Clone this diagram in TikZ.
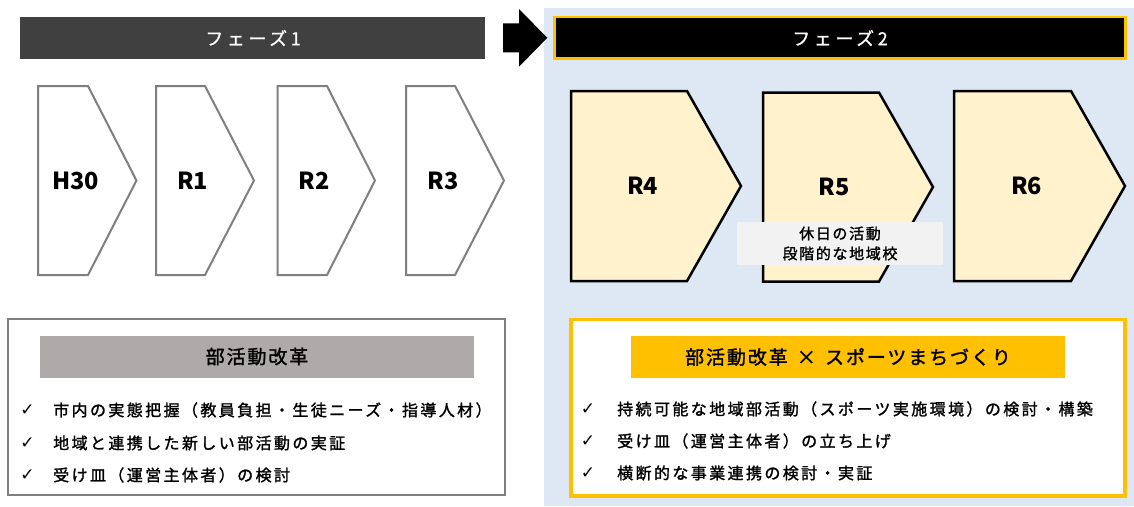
\documentclass[tikz,border=0pt]{standalone}
\usepackage{fontspec}
\setmainfont{Noto Sans CJK JP}
\newfontfamily\jpbody{Noto Sans CJK JP}[LetterSpace=15, FakeBold=1.5]
\newfontfamily\jptitle{Noto Sans CJK JP}[LetterSpace=10, FakeBold=1.5]
\newfontfamily\jpnote{Noto Sans CJK JP}[LetterSpace=11, FakeBold=1.5]
\newfontfamily\jphead{Noto Sans CJK JP}[LetterSpace=20, FakeBold=1]
\newfontfamily\symf{DejaVu Sans}
\definecolor{phaseA}{HTML}{404040}
\definecolor{gold}{HTML}{FFC000}
\definecolor{bluebg}{HTML}{DEE8F4}
\definecolor{cream}{HTML}{FFF2CC}
\definecolor{chevgray}{HTML}{7F7F7F}
\definecolor{labelgray}{HTML}{F2F2F2}
\definecolor{titlegray}{HTML}{AEAAAA}
\tikzset{
  chevA/.style={draw=chevgray, line width=2pt, fill=white, line join=miter},
  chevB/.style={draw=black, line width=2.5pt, fill=cream, line join=miter},
  rlabel/.style={font=\fontsize{23.5}{26}\selectfont\bfseries, inner sep=0pt},
  phasetext/.style={font=\jphead\fontsize{18}{20}\selectfont, text=white, inner sep=0pt},
  titletext/.style={font=\jptitle\fontsize{19}{22}\selectfont, inner sep=0pt},
  bullettext/.style={font=\jpbody\fontsize{16}{19}\selectfont, anchor=west, inner sep=0pt},
  checkmk/.style={font=\symf\fontsize{17}{19}\selectfont, inner sep=0pt},
  notetext/.style={font=\jpnote\fontsize{15}{20}\selectfont, align=center, inner sep=0pt}
}
% name, style, left, shoulder, tip, top, bottom, label, textx
\newcommand{\chevron}[9]{%
  \draw[#2] (#3,#6) -- (#4,#6) -- (#5,{(#6+#7)/2}) -- (#4,#7) -- (#3,#7) -- cycle;
  \node[rlabel] (#1) at (#9,{(#6+#7)/2}) {#8};
}
\begin{document}
\begin{tikzpicture}[x=1pt,y=-1pt]
\useasboundingbox (0,0) rectangle (1134,506);
\fill[white] (0,0) rectangle (1134,506);
% blue background of phase 2
\fill[bluebg] (544,7.5) rectangle (1134,506);
% phase bars
\fill[phaseA] (20,17) rectangle (485,59);
\node[phasetext] (p1) at (253,38) {フェーズ1};
\draw[gold, line width=2.5pt, fill=black] (554.5,17) rectangle (1125.5,58.5);
\node[phasetext] (p2) at (840,38) {フェーズ2};
% block arrow
\fill[black] (503,23.3) -- (519,23.3) -- (519,9) -- (547.3,37.8) -- (519,66.7) -- (519,52.3) -- (503,52.3) -- cycle;
% phase 1 chevrons
\chevron{h30}{chevA}{38}{88}{136.5}{86}{275}{H30}{75.5}
\chevron{r1}{chevA}{156}{205}{254}{86}{275}{R1}{192.5}
\chevron{r2}{chevA}{277.5}{327}{375}{86}{275}{R2}{314}
\chevron{r3}{chevA}{406}{455}{504}{86}{275}{R3}{443}
% phase 2 chevrons
\chevron{r4}{chevB}{571}{687}{741}{91}{281}{R4}{642.7}
\chevron{r5}{chevB}{763}{879}{933}{92.5}{281.5}{R5}{834}
\chevron{r6}{chevB}{954}{1071}{1125}{91}{281}{R6}{1026.5}
% note
\fill[labelgray] (737,222) rectangle (943,265);
\node[notetext] (note) at (840,243.5) {休日の活動\\段階的な地域校};
% bottom-left box
\draw[chevgray, line width=2pt, fill=white] (8,319) rectangle (505,495);
\fill[titlegray] (40,336) rectangle (474,377.5);
\node[titletext] (t1) at (257,356.5) {部活動改革};
\node[checkmk] (c1a) at (27.5,410) {✓};
\node[bullettext] (b1a) at (53,410) {市内の実態把握（教員負担・生徒ニーズ・指導人材）};
\node[checkmk] (c1b) at (27.5,443) {✓};
\node[bullettext] (b1b) at (53,443) {地域と連携した新しい部活動の実証};
\node[checkmk] (c1c) at (27.5,475) {✓};
\node[bullettext] (b1c) at (53,475) {受け皿（運営主体者）の検討};
% bottom-right box
\draw[gold, line width=3.5pt, fill=white] (571,319.5) rectangle (1125,496);
\fill[gold] (631,336) rectangle (1065,377.5);
\node[titletext] (t2) at (848,357) {部活動改革\hspace{3pt} × \hspace{3pt}スポーツまちづくり};
\node[checkmk] (c2a) at (588,409) {✓};
\node[bullettext] (b2a) at (617,409) {持続可能な地域部活動（スポーツ実施環境）の検討・構築};
\node[checkmk] (c2b) at (588,441) {✓};
\node[bullettext] (b2b) at (617,441) {受け皿（運営主体者）の立ち上げ};
\node[checkmk] (c2c) at (588,473) {✓};
\node[bullettext] (b2c) at (617,473) {横断的な事業連携の検討・実証};
\end{tikzpicture}
\end{document}
